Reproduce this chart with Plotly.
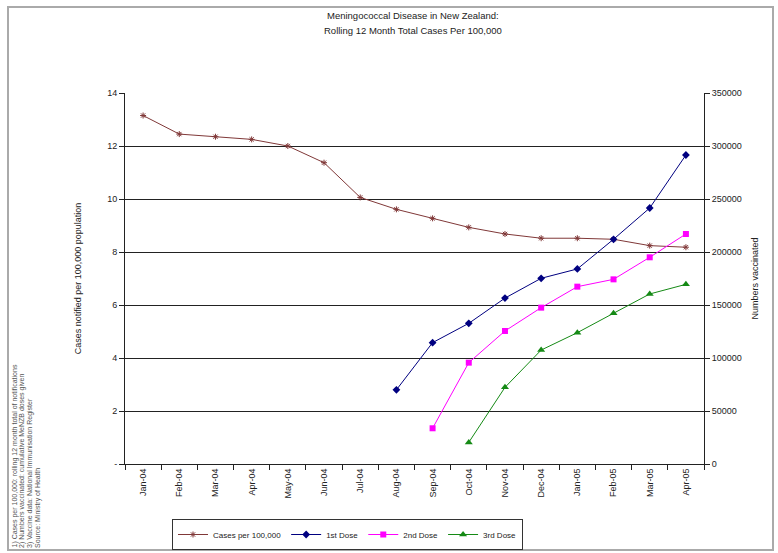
import plotly.graph_objects as go

# Months on the category axis
months = ["Jan-04", "Feb-04", "Mar-04", "Apr-04", "May-04", "Jun-04", "Jul-04", "Aug-04",
          "Sep-04", "Oct-04", "Nov-04", "Dec-04", "Jan-05", "Feb-05", "Mar-05", "Apr-05"]

# Rolling 12 month total cases per 100,000 (left axis)
cases_per_100k = [13.15, 12.45, 12.35, 12.25, 12.0, 11.37, 10.06, 9.61,
                  9.27, 8.93, 8.68, 8.52, 8.52, 8.48, 8.24, 8.18]

# Cumulative numbers vaccinated (right axis); None before a dose began
dose1 = [None] * 7 + [70000, 114500, 132700, 156500, 175200, 184000, 212000, 241500, 291500]
dose2 = [None] * 8 + [33700, 95600, 125500, 147500, 167300, 174200, 195000, 217000]
dose3 = [None] * 9 + [20400, 72300, 107500, 123900, 142200, 160400, 169500]

left_ticks = [0, 2, 4, 6, 8, 10, 12, 14]
left_ticktext = ["-", "2", "4", "6", "8", "10", "12", "14"]
right_ticks = [0, 50000, 100000, 150000, 200000, 250000, 300000, 350000]
right_ticktext = ["0", "50000", "100000", "150000", "200000", "250000", "300000", "350000"]

title_lines = ["Meningococcal Disease in New Zealand:",
               "Rolling 12 Month Total Cases Per 100,000"]
side_notes = [
    "1) Cases per 100,000: rolling 12 month total of notifications",
    "2) Numbers vaccinated: cumulative MeNZB doses given",
    "3) Vaccine data: National Immunisation Register",
    "Source: Ministry of Health",
]

FONT = "Liberation Sans, Arial, sans-serif"
W, H = 778, 553
L, R, T, B = 125, 74, 93, 89
PW, PH = W - L - R, H - T - B


def px_x(px):
    return (px - L) / PW


def px_y(py):
    return (H - B - py) / PH


fig = go.Figure()

fig.add_trace(go.Scatter(
    x=months, y=cases_per_100k, name="Cases per 100,000", mode="lines+markers",
    line=dict(color="#803838", width=1),
    marker=dict(symbol="asterisk-open", size=5, color="#803838", line=dict(width=1, color="#803838")),
))
fig.add_trace(go.Scatter(
    x=months, y=dose1, name="1st Dose", mode="lines+markers", yaxis="y2",
    line=dict(color="#000080", width=1),
    marker=dict(symbol="diamond", size=6, color="#000080"),
))
fig.add_trace(go.Scatter(
    x=months, y=dose2, name="2nd Dose", mode="lines+markers", yaxis="y2",
    line=dict(color="#FF00FF", width=1),
    marker=dict(symbol="square", size=6, color="#FF00FF"),
))
fig.add_trace(go.Scatter(
    x=months, y=dose3, name="3rd Dose", mode="lines+markers", yaxis="y2",
    line=dict(color="#158a15", width=1),
    marker=dict(symbol="triangle-up", size=7, color="#158a15"),
))

axis_font = dict(family=FONT, size=9, color="#222")

fig.update_layout(
    width=W, height=H,
    margin=dict(l=L, r=R, t=T, b=B, autoexpand=False),
    paper_bgcolor="white", plot_bgcolor="white",
    font=dict(family=FONT, size=9, color="#222"),
    showlegend=True,
    legend=dict(
        orientation="h", x=px_x(172), xanchor="left", y=px_y(519), yanchor="top",
        bordercolor="#333", borderwidth=1, bgcolor="white",
        font=dict(family=FONT, size=8, color="#222"),
        itemwidth=30, tracegroupgap=0,
    ),
    xaxis=dict(
        type="category", range=[-0.5, len(months) - 0.5],
        showline=True, linecolor="#222", linewidth=1, mirror=False,
        ticks="outside", ticklen=5, tickcolor="#222", tickson="boundaries",
        tickangle=-90, tickfont=axis_font, showgrid=False, zeroline=False,
    ),
    yaxis=dict(
        range=[0, 14], tickvals=left_ticks, ticktext=left_ticktext,
        showline=True, linecolor="#222", linewidth=1,
        ticks="outside", ticklen=5, tickcolor="#222",
        showgrid=True, gridcolor="#222", gridwidth=1, zeroline=False,
        tickfont=axis_font,
        title=dict(text="Cases notified per 100,000 population", font=axis_font, standoff=24),
    ),
    yaxis2=dict(
        range=[0, 350000], tickvals=right_ticks, ticktext=right_ticktext,
        overlaying="y", side="right",
        showline=True, linecolor="#222", linewidth=1,
        ticks="outside", ticklen=5, tickcolor="#222",
        showgrid=False, zeroline=False, tickfont=axis_font,
        title=dict(text="Numbers vaccinated", font=axis_font, standoff=10),
    ),
)

# Chart title (two centred lines)
for i, line in enumerate(title_lines):
    fig.add_annotation(
        text=line, xref="paper", yref="paper", x=px_x(413), y=px_y(15 + 16 * i),
        xanchor="center", yanchor="middle", showarrow=False,
        font=dict(family=FONT, size=9.5, color="#222"),
    )

# Rotated source notes down the left edge
for i, note in enumerate(side_notes):
    fig.add_annotation(
        text=note, xref="paper", yref="paper", x=px_x(14 + 8 * i), y=px_y(550),
        xanchor="center", yanchor="bottom", textangle=-90, showarrow=False,
        font=dict(family=FONT, size=7, color="#555"),
    )

# Outer chart frame
fig.add_shape(type="rect", xref="paper", yref="paper",
              x0=px_x(8), x1=px_x(773), y0=px_y(550), y1=px_y(7),
              line=dict(color="#aaa", width=2), layer="below")

fig.write_html("out.html")
